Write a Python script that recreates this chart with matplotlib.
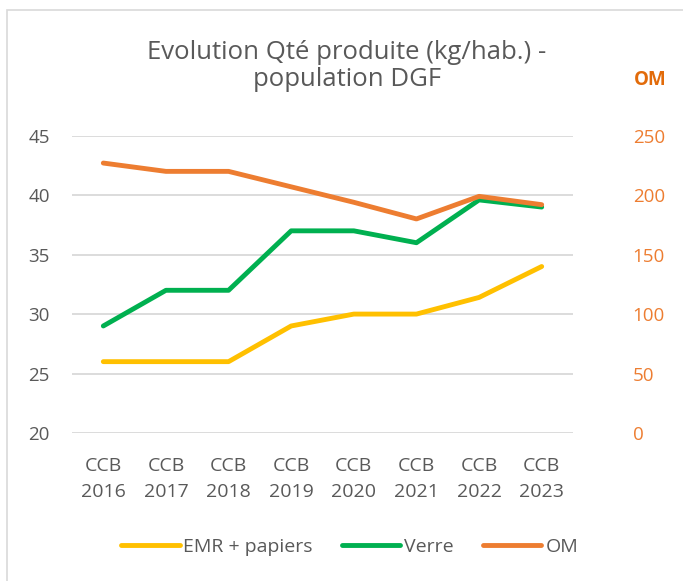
import matplotlib.pyplot as plt
from matplotlib.patches import Rectangle
from matplotlib.lines import Line2D

plt.rcParams['font.family'] = ['Open Sans', 'DejaVu Sans']

# data
years = ['CCB\n2016', 'CCB\n2017', 'CCB\n2018', 'CCB\n2019',
         'CCB\n2020', 'CCB\n2021', 'CCB\n2022', 'CCB\n2023']
emr_papiers = [26, 26, 26, 29, 30, 30, 31.4, 34]
verre = [29, 32, 32, 37, 37, 36, 39.6, 39]
om = [227, 220, 220, 207, 194, 180, 199, 192]

grey_txt = '#595959'
c_emr = '#FFC000'
c_verre = '#00B050'
c_om = '#ED7D31'

fig = plt.figure(figsize=(6.83, 5.81), dpi=100)

# chart frame (only top and left edges are visible in the crop)
fig.patches.append(Rectangle((7/683, -0.1), 1.2, 1 - 10/581 + 0.1,
                             transform=fig.transFigure, fill=False,
                             edgecolor='#D9D9D9', linewidth=1.2))

ax = fig.add_axes([72/683, 1 - 433/581, 501/683, 297.3/581])
ax2 = ax.twinx()

x = list(range(len(years)))
ax.plot(x, emr_papiers, color=c_emr, lw=3.5, solid_capstyle='round', solid_joinstyle='round', zorder=3)
ax.plot(x, verre, color=c_verre, lw=3.5, solid_capstyle='round', solid_joinstyle='round', zorder=3)
ax2.plot(x, om, color=c_om, lw=3.5, solid_capstyle='round', solid_joinstyle='round', zorder=3)

ax.set_xlim(-0.5, 7.5)
ax.set_ylim(20, 45)
ax.set_yticks(range(20, 46, 5))
ax2.set_ylim(0, 250)
ax2.set_yticks(range(0, 251, 50))
ax.set_xticks(x)
ax.set_xticklabels(years, linespacing=1.6)

ax.yaxis.grid(True, color='#D9D9D9', lw=1.3)
ax.set_axisbelow(True)
for a in (ax, ax2):
    for s in a.spines.values():
        s.set_visible(False)

ax.tick_params(axis='y', length=0, pad=16, labelsize=13.5, labelcolor=grey_txt)
ax.tick_params(axis='x', length=0, pad=17, labelsize=14, labelcolor=grey_txt)
ax2.tick_params(axis='y', length=0, pad=43, labelsize=13.5, labelcolor=c_om)

fig.text(0.508, 1 - 66/581, 'Evolution Qté produite (kg/hab.) -\npopulation DGF',
         ha='center', va='center', fontsize=18.5, color=grey_txt,
         multialignment='center', linespacing=1.15)
fig.text(650/683, 1 - 80/581, 'OM', ha='center', va='center',
         fontsize=13.5, fontweight='bold', color='#E26B0A')

handles = [Line2D([], [], color=c, lw=3.5, solid_capstyle='round') for c in (c_emr, c_verre, c_om)]
fig.legend(handles, ['EMR + papiers', 'Verre', 'OM'], loc='center',
           bbox_to_anchor=(0.512, 1 - 547/581), ncol=3, frameon=False,
           fontsize=14, labelcolor=grey_txt, handlelength=3.0,
           handletextpad=0.2, columnspacing=1.5)

fig.savefig('out.png', dpi=100)
